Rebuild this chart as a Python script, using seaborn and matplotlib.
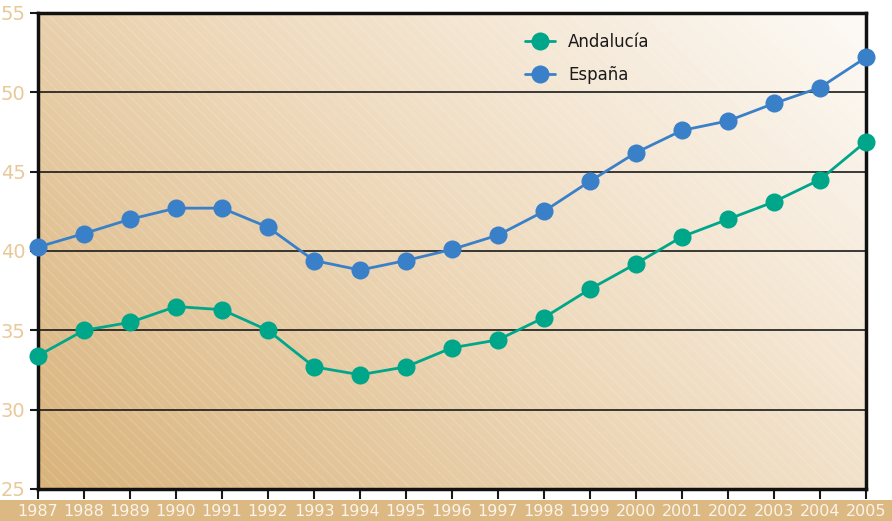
import numpy as np
import pandas as pd
import matplotlib
matplotlib.use("Agg")
import matplotlib.pyplot as plt
import seaborn as sns
from matplotlib.colors import LinearSegmentedColormap
from matplotlib.patches import Rectangle

years = list(range(1987, 2006))
andalucia = [33.4, 35.0, 35.5, 36.5, 36.3, 35.0, 32.7, 32.2, 32.7, 33.9,
             34.4, 35.8, 37.6, 39.2, 40.9, 42.0, 43.1, 44.5, 46.9]
espana = [40.25, 41.1, 42.0, 42.7, 42.7, 41.5, 39.4, 38.8, 39.4, 40.1,
          41.0, 42.5, 44.4, 46.2, 47.6, 48.2, 49.3, 50.3, 52.2]

df = pd.DataFrame({
    "year": years * 2,
    "value": andalucia + espana,
    "region": ["Andalucía"] * len(years) + ["España"] * len(years),
})
palette = {"Andalucía": "#00a68a", "España": "#3a80c8"}

sns.set_style("white")
plt.rcParams["font.family"] = ["DejaVu Sans"]

fig = plt.figure(figsize=(8.92, 5.21), dpi=100)
ax = fig.add_axes([38 / 892, 1 - 489 / 521, 828 / 892, 476 / 521])

# x label band (behind the axes so tick labels sit on top)
fig.patches.append(Rectangle((0, 0), 1, 21 / 521, transform=fig.transFigure,
                             facecolor="#dcb883", edgecolor="none", zorder=-1))

# background gradient
cmap = LinearSegmentedColormap.from_list("bg", ["#d9b37b", "#eed9bb", "#fdfaf6"])
gx, gy = np.meshgrid(np.linspace(0, 1, 200), np.linspace(0, 1, 200))
grad = (gx * 0.62 + gy * 0.38)
ax.imshow(grad, cmap=cmap, extent=[1987, 2005, 25, 55], origin="lower",
          aspect="auto", zorder=0, interpolation="bilinear")
ax.add_patch(Rectangle((1987, 25), 18, 30, facecolor="none", hatch="\\\\\\",
                       edgecolor=(1, 1, 1, 0.14), linewidth=0, zorder=0.5))

for yv in [30, 35, 40, 45, 50]:
    ax.axhline(yv, color="#1a1a1a", lw=1.2, zorder=1)

sns.lineplot(data=df, x="year", y="value", hue="region", palette=palette,
             marker="o", markersize=13, markeredgewidth=0, linewidth=2,
             ax=ax, zorder=3, clip_on=False)

ax.set_xlim(1987, 2005)
ax.set_ylim(25, 55)
ax.set_xticks(years)
ax.set_xticklabels([str(y) for y in years], color="#fbf4ea", fontsize=11.5)
ax.set_yticks([25, 30, 35, 40, 45, 50, 55])
ax.tick_params(axis="y", colors="#1a1a1a", labelcolor="#e8c99a", labelsize=14,
               length=6, width=1.5, direction="out", left=True, pad=3)
ax.tick_params(axis="x", colors="#1a1a1a", labelcolor="#fbf4ea",
               length=7, width=1.5, direction="out", bottom=True, pad=4)
ax.set_xlabel("")
ax.set_ylabel("")
for s in ax.spines.values():
    s.set_color("#111111")
    s.set_linewidth(2.5)

leg = ax.legend(loc="upper left", bbox_to_anchor=(0.57, 0.99), frameon=False,
                fontsize=12, handlelength=1.8, labelspacing=0.9)
for t in leg.get_texts():
    t.set_color("#1a1a1a")

fig.savefig("out.png", dpi=100)
